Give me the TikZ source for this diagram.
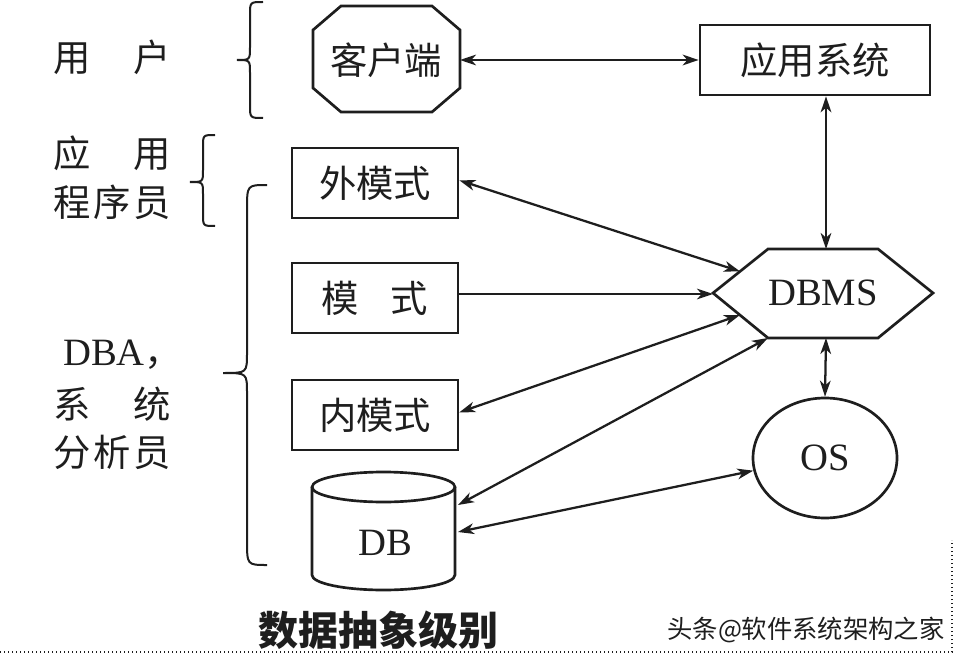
\documentclass[tikz,border=0pt]{standalone}
\usepackage{fontspec}
\setmainfont{Liberation Serif}
\newfontfamily\cjk{Noto Sans CJK SC}
\usetikzlibrary{arrows.meta,shapes.geometric}
\definecolor{ink}{HTML}{1E1E1E}
\begin{document}
\begin{tikzpicture}[x=0.75pt,y=-0.75pt,line join=miter,
  every node/.style={text=ink},
  ln/.style={draw=ink,line width=2pt},
  brace/.style={draw=ink,line width=1.5pt},
  box/.style={ln,minimum width=124.5pt,minimum height=52.5pt,inner sep=0pt,font=\cjk\fontsize{28}{30}\selectfont},
  cjklab/.style={font=\cjk\fontsize{28}{30}\selectfont,inner sep=0pt},
  latlab/.style={font=\fontsize{29}{31}\selectfont,inner sep=0pt},
  conn/.style={ink,line width=1.7pt,{Stealth[length=12pt,width=8pt,inset=3.5pt]}-{Stealth[length=12pt,width=8pt,inset=3.5pt]}},
  conn1/.style={ink,line width=1.7pt,-{Stealth[length=12pt,width=8pt,inset=3.5pt]}}]
\useasboundingbox (0,0) rectangle (956,656);
\fill[white] (0,0) rectangle (956,656);

% left labels
\node[cjklab,anchor=west] (l1) at (53,57) {\makebox[88pt][s]{用\hfill 户}};
\node[cjklab,anchor=west] (l2) at (53,153) {\makebox[88pt][s]{应\hfill 用}};
\node[cjklab,anchor=west] (l3) at (53,202) {\makebox[88pt][s]{程\hfill 序\hfill 员}};
\node[cjklab,anchor=west] (l4) at (63,355) {{\fontsize{29}{31}\selectfont\rmfamily DBA}，};
\node[cjklab,anchor=west] (l5) at (53,404) {\makebox[88pt][s]{系\hfill 统}};
\node[cjklab,anchor=west] (l6) at (53,452) {\makebox[88pt][s]{分\hfill 析\hfill 员}};

% braces
\draw[brace] (263,2) .. controls (250,2) .. (250,15) -- (250,47) .. controls (250,60) .. (237,60)
  .. controls (250,60) .. (250,73) -- (250,105) .. controls (250,118) .. (263,118);
\draw[brace] (215,135) .. controls (203,135) .. (203,147) -- (203,170) .. controls (203,182) .. (190,182)
  .. controls (203,182) .. (203,194) -- (203,214) .. controls (203,226) .. (215,226);
\draw[brace] (267,185) .. controls (247,185) .. (247,210) -- (247,353) .. controls (247,373) .. (223,373)
  .. controls (247,373) .. (247,393) -- (247,540) .. controls (247,565) .. (267,565);

% client
\draw[ln] (313,30) -- (341,6) -- (432,6) -- (460,30) -- (460,88) -- (432,112) -- (341,112) -- (313,88) -- cycle;
\node[cjklab] (kh) at (386,60) {客户端};
\coordinate (khe) at (460,60);

% application system
\node[box,minimum width=172.5pt] (yy) at (815,60) {应用系统};

% schema boxes
\node[box] (wai) at (375,183) {外模式};
\node[box] (mo) at (375,298) {\makebox[80pt][s]{模\hfill 式}};
\node[box] (nei) at (375,415) {内模式};

% DBMS hexagon
\draw[ln] (713,293) -- (768,249) -- (878,249) -- (933,293) -- (878,338) -- (768,338) -- cycle;
\node[latlab] (dbms) at (823,293) {DBMS};
\coordinate (dul) at (740,271.4);
\coordinate (dll) at (740,315);
\coordinate (dtip) at (713,294);
\coordinate (dbl) at (768,338);
\coordinate (dtop) at (826,249);
\coordinate (dbot) at (826,338);

% OS
\node[ln,ellipse,minimum width=108pt,minimum height=90pt,latlab] (os) at (825,458) {OS};

% DB cylinder
\draw[ln] (312,487) -- (312,575) arc[start angle=180,end angle=360,x radius=53.6pt,y radius=11.25pt] -- (455,487);
\draw[ln] (383.5,487) ellipse[x radius=53.6pt,y radius=11.25pt];
\node[latlab] (db) at (385,543) {DB};
\coordinate (db1) at (458,505);
\coordinate (db2) at (458,532);

% connectors
\draw[conn] (khe) -- (yy.west);
\draw[conn] (yy.south -| dtop) -- (dtop);
\draw[conn] (dbot) -- (os.north);
\draw[conn] ([yshift=2pt]wai.east) -- (dul);
\draw[conn1] (mo.east |- dtip) -- (dtip);
\draw[conn] ([yshift=2pt]nei.east) -- (dll);
\draw[conn] (db1) -- (dbl);
\draw[conn] (db2) -- (os.190);

% caption and watermark
\node[font=\cjk\bfseries\fontsize{30}{32}\selectfont,inner sep=0pt] (cap) at (378,630) {数据抽象级别};
\node[font=\cjk\fontsize{19}{21}\selectfont,inner sep=0pt] (wm) at (806,630) {头条@软件系统架构之家};

% dotted border
\draw[ink,dotted,line width=1pt] (0,652) -- (952,652) -- (952,540);
\end{tikzpicture}
\end{document}
